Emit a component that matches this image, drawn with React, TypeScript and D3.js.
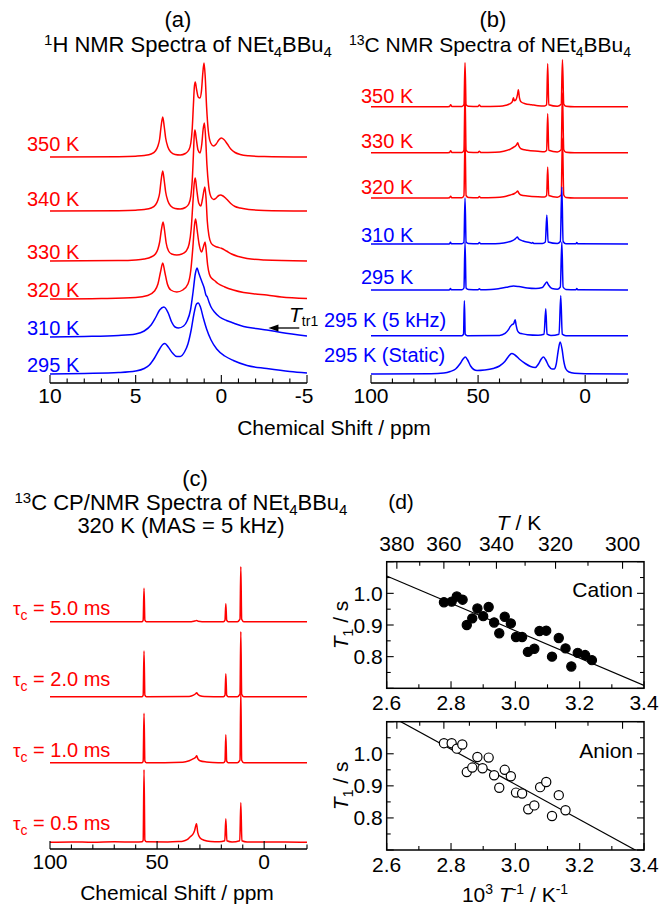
import React from 'react';
import * as d3 from 'd3';

type Pt = [number, number];

const FONT = "'Liberation Sans', Arial, Helvetica, sans-serif";
const RED = '#ff0000';
const BLUE = '#0000ff';

// ---------------- Panel (a): 1H NMR ----------------
const aTickLabels = ['10', '5', '0', '-5'];
const aTickValues = [10, 5, 0, -5];
const aNames = ['350 K', '340 K', '330 K', '320 K', '310 K', '295 K'];
const aColors = [RED, RED, RED, RED, BLUE, BLUE];
const aOffsets = [226, 172, 122, 84, 46, 9];

const a350: Pt[] = [[10,0],[6,0.3],[5,0.8],[4.5,1.5],[4.1,3],[3.85,6],[3.7,11],[3.6,18],[3.52,30],[3.42,40],[3.33,30],[3.25,19],[3.12,10],[2.95,5],[2.7,2.5],[2.4,2],[2.1,3.5],[1.9,7],[1.78,14],[1.7,28],[1.63,52],[1.57,71],[1.52,75],[1.45,68],[1.35,60],[1.25,59],[1.16,66],[1.08,84],[1.01,94],[0.94,80],[0.86,50],[0.76,26],[0.62,14],[0.45,11],[0.3,13],[0.15,17],[0,19],[-0.15,17.5],[-0.35,13],[-0.55,8],[-0.8,4.5],[-1.1,2.5],[-1.6,1.2],[-2.5,0.5],[-5,0]];
const a340: Pt[] = [[10,0],[6,0.3],[5,0.8],[4.5,1.5],[4.1,3],[3.85,6],[3.7,11],[3.6,18],[3.52,30],[3.42,40],[3.33,30],[3.25,19],[3.12,10],[2.95,5],[2.7,2.5],[2.4,2],[2.1,3.5],[1.9,7],[1.78,15],[1.7,30],[1.63,56],[1.58,76],[1.54,81],[1.46,72],[1.36,61],[1.24,58],[1.14,67],[1.06,82],[0.99,88],[0.92,74],[0.84,46],[0.74,25],[0.6,14],[0.45,11.5],[0.3,13],[0.15,15.5],[0.05,16],[-0.1,15],[-0.3,12],[-0.55,7.5],[-0.8,4.5],[-1.1,3],[-1.6,1.5],[-2.5,0.6],[-5,0]];
const a330: Pt[] = [[10,0],[6,0.4],[5,1],[4.5,2],[4.1,4],[3.85,7],[3.7,12],[3.6,19],[3.5,31],[3.4,39],[3.31,30],[3.22,18],[3.08,10],[2.9,7],[2.6,6],[2.3,7],[2.05,10],[1.88,17],[1.76,32],[1.66,58],[1.58,78],[1.52,83],[1.44,72],[1.32,58],[1.2,55],[1.1,62],[1.02,70],[0.96,74],[0.89,62],[0.82,40],[0.72,25],[0.6,18],[0.45,15.5],[0.25,14],[0,12.7],[-0.3,10],[-0.6,7],[-1,4.5],[-1.5,2.5],[-2.5,1],[-5,0]];
const a320: Pt[] = [[10,0],[7,0.5],[5,1.5],[4.3,3.5],[3.9,8],[3.7,15],[3.55,27],[3.42,36],[3.3,27],[3.15,15],[2.95,9],[2.6,7],[2.25,9],[1.95,15],[1.78,29],[1.66,52],[1.56,75],[1.5,80],[1.42,70],[1.3,55],[1.15,47],[1.05,52],[0.95,57],[0.88,48],[0.8,34],[0.7,25],[0.55,20.5],[0.4,18.5],[0.2,15.5],[-0.2,12],[-0.7,9],[-1.3,6.5],[-2,5],[-2.65,4],[-3.5,2],[-5,0.5]];
const a310: Pt[] = [[10,0],[8,0.5],[6,1.5],[5,3],[4.5,6],[4.1,12],[3.85,19],[3.6,27],[3.35,30],[3.1,24],[2.9,15],[2.7,10],[2.5,9],[2.2,11],[2,16],[1.8,27],[1.65,45],[1.52,63],[1.42,69],[1.32,64],[1.15,56],[1.0,49],[0.9,42],[0.82,40],[0.72,35],[0.6,30],[0.4,25],[0.1,20],[-0.3,16.5],[-0.7,14],[-1.3,10.5],[-2,8.5],[-2.65,7],[-3.5,4.5],[-5,1]];
const a295: Pt[] = [[10,0],[8,0.6],[6,1.5],[5,3],[4.5,5.5],[4.2,9],[3.9,16],[3.6,25],[3.42,29.5],[3.29,30.5],[3.1,27],[2.85,21],[2.6,17.5],[2.4,17.5],[2.15,22],[1.95,30],[1.75,45],[1.6,60],[1.45,70],[1.35,71],[1.22,67],[1.05,56],[0.86,45],[0.6,34],[0.27,25],[-0.2,18],[-0.7,13.5],[-1.5,8.5],[-2.65,5.5],[-4,2.5],[-5,1]];
const aSpectra = [a350, a340, a330, a320, a310, a295];

// ---------------- Panel (b): 13C NMR ----------------
const bTickLabels = ['100', '50', '0'];
const bTickValues = [100, 50, 0];
const bNames = ['350 K', '330 K', '320 K', '310 K', '295 K', '295 K (5 kHz)', '295 K (Static)'];
const bColors = [RED, RED, RED, BLUE, BLUE, BLUE, BLUE];
const bOffsets = [276.3, 230.3, 185, 139, 93, 47.3, 9];

const b350: Pt[] = [[100,0],[65,0],[63.3,0.3],[62.8,2],[62.3,0.3],[57.5,0.3],[56.6,2],[56.1,44],[55.6,2],[54.5,0.5],[50,0.3],[49.4,1.8],[48.8,0.3],[40,0.5],[37,1.5],[35,3],[34,5],[33.5,9],[33.1,6],[32.3,7],[31.6,12],[31.2,17],[30.7,9],[30,5],[28,3],[25,2],[22,1],[19,0.8],[18,2],[17.5,43],[17,2],[13,0.5],[11.2,2.5],[10.6,47],[10,2.5],[9,0.5],[5,0],[-20,0]];
const b330: Pt[] = [[100,0],[65,0],[63.3,0.3],[62.8,2],[62.3,0.3],[57.5,0.3],[56.6,2.5],[56.1,60],[55.6,2.5],[54.5,0.5],[50,0.3],[49.4,1.5],[48.8,0.3],[42,0.5],[38,1.5],[35,3.5],[33,6],[32,8],[31.5,10],[31,7],[30,4],[27,2.5],[22,1.5],[19,1],[18,2.5],[17.5,39],[17,2.5],[13,0.8],[11.2,3],[10.6,60],[10,3],[9,0.5],[5,0],[-20,0]];
const b320: Pt[] = [[100,0],[65,0],[63.3,0.3],[62.8,1.8],[62.3,0.3],[57.5,0.3],[56.6,2.5],[56.1,60],[55.6,2.5],[54.5,0.5],[50,0.3],[49.4,1.5],[48.8,0.3],[42,0.5],[38,1.2],[35,3],[33,4.5],[32,6],[31.5,7],[31,5],[30,3],[27,2],[22,1.2],[19,1],[18,2.5],[17.5,31],[17,2.5],[13,0.8],[11.2,3],[10.6,60],[10,3],[9,0.5],[5,0],[-20,0]];
const b310: Pt[] = [[100,0],[64,0],[63.3,0.3],[62.9,1.8],[62.5,0.3],[57.5,0.3],[56.6,2],[56.1,46],[55.6,2],[54.5,0.5],[50,0.3],[49.4,1.5],[48.8,0.3],[42,0.3],[38,1],[35,2.5],[33,4.5],[32,6.5],[31.7,7],[31,5],[29,3],[26,1.5],[24.9,0.8],[24.5,1.5],[24,0.5],[20,0.5],[18.6,2],[17.9,29],[17.3,2],[13,0.5],[11.6,2.5],[10.9,57],[10.3,2.5],[9,0.3],[4.3,0.3],[3.9,1.5],[3.5,0.3],[-20,0]];
const b295: Pt[] = [[100,0],[64,0],[63.3,0.3],[62.9,1.5],[62.5,0.3],[57.5,0.3],[56.6,2],[56.1,48],[55.6,2],[54.5,0.5],[50,0.3],[49.4,1.3],[48.8,0.3],[44,0.5],[40,1.5],[36,3],[33.5,4],[31,3.5],[27,2],[23,1.5],[20,2.5],[18.7,6],[17.9,8],[17.1,5],[15.5,1.5],[13,0.8],[11.6,3],[10.9,48],[10.3,3],[9,0.5],[4.3,0.3],[3.9,1.5],[3.5,0.3],[-20,0]];
const b295mas: Pt[] = [[100,0],[57.5,0],[56.8,1.5],[56.4,35],[56,1.5],[55,0],[40,0.3],[37.4,2.3],[35.8,6],[35,9],[34.2,11],[33.4,12],[32.7,16],[32.2,10],[31.6,5],[30.5,2.5],[29.5,2],[27,1],[22,0.5],[19.2,1.5],[18.4,27],[17.8,1.5],[16,0.3],[12.2,1.5],[11.4,40],[10.7,1.5],[9,0],[-20,0]];
const b295static: Pt[] = [[100,0],[72,0.3],[66,1],[63,2.5],[60.5,5],[58.5,10],[57,15],[56,17],[55,14.5],[53.5,8],[52,4.5],[50.5,3.5],[47,4],[43,5.5],[40,8],[37.5,12.5],[35.8,17.5],[34.3,20.5],[32.8,19],[30.5,14.5],[28,10.5],[25.5,7.5],[23.3,6.5],[21.8,10],[20.5,15],[19.5,17],[18.5,14.5],[17,8],[15.5,5],[14.5,5],[13.5,10],[12.6,23],[11.7,32],[10.8,25],[10,13],[9,5],[7.5,2],[5,0.7],[0,0.2],[-20,0]];
const bSpectra = [b350, b330, b320, b310, b295, b295mas, b295static];

// ---------------- Panel (c): 13C CP/NMR ----------------
const cNames = ['5.0 ms', '2.0 ms', '1.0 ms', '0.5 ms'];
const cOffsets = [226.8, 151.8, 85.8, 5.8];
const c50: Pt[] = [[100,0],[57,0],[56.5,1.5],[56.1,33.4],[55.7,1.5],[55,0],[34,0],[32.5,0.6],[31.5,1.2],[30.8,0.4],[29,0],[19,0],[18.3,1.5],[17.9,18],[17.5,1.5],[16.8,0],[12.5,0],[11.3,2.5],[10.9,55],[10.5,2.5],[9.5,0],[-20,0]];
const c20: Pt[] = [[100,0],[57,0],[56.5,1.5],[56.1,45.7],[55.7,1.5],[55,0],[35,0.3],[33,1.5],[32,3],[31.5,4],[31,2.5],[30,1],[28,0.3],[19,0],[18.3,1.5],[17.9,23],[17.5,1.5],[16.8,0],[12.5,0],[11.3,2.5],[10.9,65],[10.5,2.5],[9.5,0],[-20,0]];
const c10: Pt[] = [[100,0],[57,0],[56.5,1.5],[56.1,49.5],[55.7,1.5],[55,0],[38,0.5],[35,2],[33,4],[32,5.5],[31.5,7],[31,4],[30,2],[27,0.7],[24,0.2],[19,0],[18.3,1.5],[17.9,28],[17.5,1.5],[16.8,0],[12.5,0],[11.3,2.5],[10.9,72],[10.5,2.5],[9.5,0],[-20,0]];
const c05: Pt[] = [[100,0.5],[90,0.8],[80,0.4],[70,0.9],[60,0.6],[57,1],[56.5,2.5],[56.1,73],[55.7,2.5],[55,1],[45,0.8],[40,1.2],[38,1.5],[36,3],[34.5,6],[33.4,8],[32.5,12],[31.6,19],[31,10],[30,5],[28,2.5],[25,1.3],[21,0.9],[18.4,2],[17.9,24],[17.4,2],[15,0.8],[11.4,2],[10.9,40],[10.4,2],[8,0.8],[0,0.6],[-10,0.8],[-20,0.5]];
const cSpectra = [c50, c20, c10, c05];
const cTickLabels = ['100', '50', '0'];
const cTickValues = [100, 50, 0];

// ---------------- Panel (d): T1 vs 1000/T ----------------
const dXTicks = ['2.6', '2.8', '3.0', '3.2', '3.4'];
const dYTicks = ['0.8', '0.9', '1.0'];
const dTopT = [380, 370, 360, 350, 340, 330, 320, 310, 300];
const dTopLabels = ['380', '360', '340', '320', '300'];
const cationX = [2.778,2.802,2.818,2.836,2.849,2.866,2.882,2.900,2.917,2.934,2.950,2.967,2.986,3.002,3.021,3.039,3.059,3.075,3.096,3.114,3.135,3.156,3.174,3.194,3.217,3.238];
const cationY = [0.972,0.974,0.990,0.980,0.900,0.921,0.952,0.928,0.957,0.908,0.874,0.926,0.905,0.862,0.862,0.815,0.825,0.881,0.882,0.800,0.859,0.826,0.769,0.812,0.805,0.789];
const anionX = [2.778,2.802,2.818,2.835,2.849,2.866,2.882,2.898,2.917,2.934,2.950,2.967,2.986,3.002,3.021,3.040,3.059,3.077,3.096,3.114,3.135,3.156];
const anionY = [1.033,1.033,1.016,1.029,0.943,0.957,0.990,0.955,0.988,0.933,0.894,0.950,0.930,0.879,0.876,0.827,0.839,0.896,0.912,0.806,0.871,0.824];
const cationFit: Pt[] = [[2.6, 1.055], [3.4, 0.709]];
const anionFit: Pt[] = [[2.6, 1.124], [3.4, 0.685]];

// ---------------- layout constants ----------------
const aLabelLift = [6, 5, 2, 2, 2, 2];
const bLabelLift = [3.5, 4.5, 4.5, 2.5, 6, 9, 12];
const bLabelX = [361, 361, 361, 361, 361, 324, 324];
const cLabelLift = [7, 11, 6, 12.5];

const xA = d3.scaleLinear().domain([10, -5]).range([50, 307]);
const yA = d3.scaleLinear().domain([0, 330]).range([383, 53]);
const xB = d3.scaleLinear().domain([100, -20]).range([371, 628]);
const yB = yA;
const xC = d3.scaleLinear().domain([100, -20]).range([50, 307]);
const yC = d3.scaleLinear().domain([0, 330]).range([848.5, 518.5]);
const xD = d3.scaleLinear().domain([2.6, 3.4]).range([386.7, 644]);
const yD1 = d3.scaleLinear().domain([0.7, 1.1]).range([688.3, 561.7]);
const yD2 = d3.scaleLinear().domain([0.7, 1.1]).range([850, 721.7]);

function specPath(data: Pt[], x: d3.ScaleLinear<number, number>, y: d3.ScaleLinear<number, number>, off: number) {
  return d3.line<Pt>().x(d => x(d[0])).y(d => y(d[1] + off)).curve(d3.curveMonotoneX)(data) || '';
}

function SpecAxis({ x, y0, major, labels, step, majorStep }: { x: d3.ScaleLinear<number, number>; y0: number; major: number[]; labels: string[]; step: number; majorStep: number }) {
  const [d0, d1] = x.domain();
  const lo = Math.min(d0, d1), hi = Math.max(d0, d1);
  const ticks: number[] = [];
  for (let v = Math.ceil(lo / step) * step; v <= hi + 1e-9; v += step) ticks.push(+v.toFixed(6));
  return (
    <g>
      <line x1={x(d0)} x2={x(d1)} y1={y0} y2={y0} stroke="#000" strokeWidth={1.3} />
      {ticks.map(t => {
        const isMajor = Math.abs(t / majorStep - Math.round(t / majorStep)) < 1e-6;
        return <line key={t} x1={x(t)} x2={x(t)} y1={y0} y2={y0 - (isMajor ? 8 : 4.5)} stroke="#000" strokeWidth={1.1} />;
      })}
      {major.map((t, i) => (
        <text key={t} x={x(t) - (labels[i].startsWith('-') ? 3 : 0)} y={y0 + 20} textAnchor="middle" fontSize={21}>{labels[i]}</text>
      ))}
    </g>
  );
}

function Scatter({ y, xs, ys, filled, fit, name, top }: { y: d3.ScaleLinear<number, number>; xs: number[]; ys: number[]; filled: boolean; fit: Pt[]; name: string; top: boolean }) {
  const [x0, x1] = xD.range();
  const [yb, yt] = y.range();
  const clipId = 'clip' + name;
  const xt: number[] = [];
  for (let i = 0; i <= 8; i++) xt.push(2.6 + i * 0.1);
  const yt2: number[] = [];
  for (let i = 0; i <= 8; i++) yt2.push(0.7 + i * 0.05);
  return (
    <g>
      <defs>
        <clipPath id={clipId}><rect x={x0} y={yt} width={x1 - x0} height={yb - yt} /></clipPath>
      </defs>
      <path d={d3.line<Pt>().x(d => xD(d[0])).y(d => y(d[1]))(fit) || ''} stroke="#000" strokeWidth={1.2} fill="none" clipPath={`url(#${clipId})`} />
      {xs.map((v, i) => (
        <circle key={i} cx={xD(v)} cy={y(ys[i])} r={4.6} fill={filled ? '#000' : '#fff'} stroke="#000" strokeWidth={1.2} />
      ))}
      <rect x={x0} y={yt} width={x1 - x0} height={yb - yt} fill="none" stroke="#000" strokeWidth={1.5} />
      {xt.map((t, i) => (
        <line key={'b' + i} x1={xD(t)} x2={xD(t)} y1={yb} y2={yb - (i % 2 === 0 ? 7 : 4)} stroke="#000" strokeWidth={1.1} />
      ))}
      {dTopT.map((T, i) => (
        <line key={'t' + i} x1={xD(1000 / T)} x2={xD(1000 / T)} y1={yt} y2={yt + (i % 2 === 0 ? 7 : 4)} stroke="#000" strokeWidth={1.1} />
      ))}
      {yt2.map((t, i) => (
        <g key={'y' + i}>
          <line x1={x0} x2={x0 + (i % 2 === 0 ? 7 : 4)} y1={y(t)} y2={y(t)} stroke="#000" strokeWidth={1.1} />
          <line x1={x1} x2={x1 - (i % 2 === 0 ? 7 : 4)} y1={y(t)} y2={y(t)} stroke="#000" strokeWidth={1.1} />
        </g>
      ))}
      {dYTicks.map(l => (
        <text key={l} x={x0 - 4} y={y(+l) + 7.5} textAnchor="end" fontSize={21}>{l}</text>
      ))}
      {dXTicks.map(l => (
        <text key={l} x={xD(+l)} y={yb + 22} textAnchor="middle" fontSize={21}>{l}</text>
      ))}
      <text x={x1 - 11} y={y(1.0) + 4} textAnchor="end" fontSize={21}>{name}</text>
      <text transform={`translate(${x0 - 39},${(yb + yt) / 2}) rotate(-90)`} textAnchor="middle" fontSize={21}>
        <tspan fontStyle="italic">T</tspan><tspan fontSize={14} dy={5}>1</tspan><tspan dy={-5}> / s</tspan>
      </text>
      {top && dTopLabels.map(l => (
        <text key={l} x={xD(1000 / +l)} y={yt - 11} textAnchor="middle" fontSize={21}>{l}</text>
      ))}
    </g>
  );
}

export default function App() {
  return (
    <svg width={662} height={906} viewBox="0 0 662 906" style={{ position: 'absolute', left: 0, top: 0, background: '#fff' }} fontFamily={FONT}>
      <rect x={0} y={0} width={662} height={906} fill="#fff" />
      {/* Panel (a) */}
      <text x={178} y={27} textAnchor="middle" fontSize={22}>(a)</text>
      <text x={188} y={52} textAnchor="middle" fontSize={22}>
        <tspan fontSize={15} dy={-7}>1</tspan><tspan dy={7}>H NMR Spectra of NEt</tspan><tspan fontSize={15} dy={5}>4</tspan><tspan dy={-5}>BBu</tspan><tspan fontSize={15} dy={5}>4</tspan>
      </text>
      {aSpectra.map((s, i) => (
        <g key={i}>
          <path d={specPath(s, xA, yA, aOffsets[i])} fill="none" stroke={aColors[i]} strokeWidth={1.5} />
          <text x={27} y={yA(aOffsets[i]) - aLabelLift[i]} fontSize={20} fill={aColors[i]}>{aNames[i]}</text>
        </g>
      ))}
      <g>
        <line x1={xA(-2.9)} x2={xA(-4.55)} y1={yA(aOffsets[4] + 9)} y2={yA(aOffsets[4] + 9)} stroke="#000" strokeWidth={1.3} />
        <path d={`M${xA(-2.75)},${yA(aOffsets[4] + 9)} l10,-3.5 l0,7 z`} fill="#000" />
        <text x={xA(-3.95)} y={yA(aOffsets[4] + 15)} fontSize={21}>
          <tspan fontStyle="italic">T</tspan><tspan fontSize={14} dy={4}>tr1</tspan>
        </text>
      </g>
      <SpecAxis x={xA} y0={383} major={aTickValues} labels={aTickLabels} step={1} majorStep={5} />

      {/* Panel (b) */}
      <text x={493} y={27} textAnchor="middle" fontSize={22}>(b)</text>
      <text x={490} y={52} textAnchor="middle" fontSize={21}>
        <tspan fontSize={14} dy={-7}>13</tspan><tspan dy={7}>C NMR Spectra of NEt</tspan><tspan fontSize={14} dy={5}>4</tspan><tspan dy={-5}>BBu</tspan><tspan fontSize={14} dy={5}>4</tspan>
      </text>
      {bSpectra.map((s, i) => (
        <g key={i}>
          <path d={specPath(s, xB, yB, bOffsets[i])} fill="none" stroke={bColors[i]} strokeWidth={1.5} />
          <text x={bLabelX[i]} y={yB(bOffsets[i]) - bLabelLift[i]} fontSize={20} fill={bColors[i]}>{bNames[i]}</text>
        </g>
      ))}
      <SpecAxis x={xB} y0={383} major={bTickValues} labels={bTickLabels} step={10} majorStep={50} />
      <text x={334} y={435} textAnchor="middle" fontSize={21}>Chemical Shift / ppm</text>

      {/* Panel (c) */}
      <text x={195} y={486} textAnchor="middle" fontSize={22}>(c)</text>
      <text x={181} y={510} textAnchor="middle" fontSize={22}>
        <tspan fontSize={15} dy={-7}>13</tspan><tspan dy={7}>C CP/NMR Spectra of NEt</tspan><tspan fontSize={15} dy={5}>4</tspan><tspan dy={-5}>BBu</tspan><tspan fontSize={15} dy={5}>4</tspan>
      </text>
      <text x={181} y={533} textAnchor="middle" fontSize={22}>320 K (MAS = 5 kHz)</text>
      {cSpectra.map((s, i) => (
        <g key={i}>
          <path d={specPath(s, xC, yC, cOffsets[i])} fill="none" stroke={RED} strokeWidth={1.5} />
          <text x={13} y={yC(cOffsets[i]) - cLabelLift[i]} fontSize={20} fill={RED}>
            <tspan fontSize={19}>τ</tspan><tspan fontSize={14} dy={5}>c</tspan><tspan dy={-5}> = {cNames[i]}</tspan>
          </text>
        </g>
      ))}
      <SpecAxis x={xC} y0={849} major={cTickValues} labels={cTickLabels} step={10} majorStep={50} />
      <text x={177} y={900} textAnchor="middle" fontSize={21}>Chemical Shift / ppm</text>

      {/* Panel (d) */}
      <text x={401} y={509} textAnchor="middle" fontSize={21}>(d)</text>
      <text x={519} y={530} textAnchor="middle" fontSize={21}>
        <tspan fontStyle="italic">T</tspan><tspan> / K</tspan>
      </text>
      <Scatter y={yD1} xs={cationX} ys={cationY} filled={true} fit={cationFit} name="Cation" top={true} />
      <Scatter y={yD2} xs={anionX} ys={anionY} filled={false} fit={anionFit} name="Anion" top={false} />
      <text x={515} y={902} textAnchor="middle" fontSize={21}>
        <tspan>10</tspan><tspan fontSize={14} dy={-8}>3</tspan><tspan dy={8}> </tspan><tspan fontStyle="italic">T</tspan><tspan fontSize={14} dy={-8}>-1</tspan><tspan dy={8}> / K</tspan><tspan fontSize={14} dy={-8}>-1</tspan>
      </text>
    </svg>
  );
}
